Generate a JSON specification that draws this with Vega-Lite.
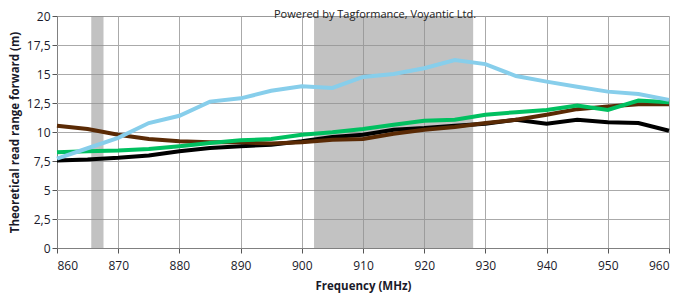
{
  "$schema": "https://vega.github.io/schema/vega-lite/v6.json",
  "width": 612,
  "height": 232,
  "autosize": "none",
  "padding": {"left": 57, "top": 16, "right": 8, "bottom": 52},
  "background": "white",
  "title": {"text": "Powered by Tagformance, Voyantic Ltd.", "anchor": "start", "dx": 265, "dy": 10, "offset": 0, "fontSize": 11, "fontWeight": "normal", "font": "Open Sans", "color": "#222222"},
  "config": {
    "view": {"stroke": "#999999", "strokeWidth": 1},
    "axis": {"labelFont": "Open Sans", "titleFont": "Open Sans", "labelColor": "#1a1a2a", "titleColor": "#1a1a2a", "labelFontSize": 12, "titleFontSize": 11.5, "titleFontWeight": "bold", "gridColor": "#aaaaaa", "gridWidth": 1, "gridOpacity": 1, "domainColor": "#808080", "tickColor": "#555555", "tickSize": 5, "labelOverlap": false}
  },
  "datasets": {
    "grid": [{"g": 2.5}, {"g": 5}, {"g": 7.5}, {"g": 10}, {"g": 12.5}, {"g": 15}, {"g": 17.5}],
    "bands": [
      {"start": 865.6, "end": 867.6, "lo": 0, "hi": 20},
      {"start": 902, "end": 928, "lo": 0, "hi": 20}
    ],
    "curves": [
      {"s": "blue", "f": 860, "r": 7.7}, {"s": "blue", "f": 865, "r": 8.6}, {"s": "blue", "f": 870, "r": 9.5}, {"s": "blue", "f": 875, "r": 10.77}, {"s": "blue", "f": 880, "r": 11.4}, {"s": "blue", "f": 885, "r": 12.62}, {"s": "blue", "f": 890, "r": 12.9}, {"s": "blue", "f": 895, "r": 13.55}, {"s": "blue", "f": 900, "r": 13.95}, {"s": "blue", "f": 905, "r": 13.8}, {"s": "blue", "f": 910, "r": 14.75}, {"s": "blue", "f": 915, "r": 15.0}, {"s": "blue", "f": 920, "r": 15.5}, {"s": "blue", "f": 925, "r": 16.2}, {"s": "blue", "f": 930, "r": 15.85}, {"s": "blue", "f": 935, "r": 14.82}, {"s": "blue", "f": 940, "r": 14.34}, {"s": "blue", "f": 945, "r": 13.9}, {"s": "blue", "f": 950, "r": 13.48}, {"s": "blue", "f": 955, "r": 13.28}, {"s": "blue", "f": 960, "r": 12.77},
      {"s": "green", "f": 860, "r": 8.25}, {"s": "green", "f": 865, "r": 8.34}, {"s": "green", "f": 870, "r": 8.4}, {"s": "green", "f": 875, "r": 8.54}, {"s": "green", "f": 880, "r": 8.77}, {"s": "green", "f": 885, "r": 9.05}, {"s": "green", "f": 890, "r": 9.28}, {"s": "green", "f": 895, "r": 9.4}, {"s": "green", "f": 900, "r": 9.77}, {"s": "green", "f": 905, "r": 9.97}, {"s": "green", "f": 910, "r": 10.26}, {"s": "green", "f": 915, "r": 10.63}, {"s": "green", "f": 920, "r": 10.97}, {"s": "green", "f": 925, "r": 11.05}, {"s": "green", "f": 930, "r": 11.48}, {"s": "green", "f": 935, "r": 11.71}, {"s": "green", "f": 940, "r": 11.9}, {"s": "green", "f": 945, "r": 12.28}, {"s": "green", "f": 950, "r": 11.9}, {"s": "green", "f": 955, "r": 12.71}, {"s": "green", "f": 960, "r": 12.57},
      {"s": "black", "f": 860, "r": 7.55}, {"s": "black", "f": 865, "r": 7.63}, {"s": "black", "f": 870, "r": 7.77}, {"s": "black", "f": 875, "r": 7.97}, {"s": "black", "f": 880, "r": 8.34}, {"s": "black", "f": 885, "r": 8.63}, {"s": "black", "f": 890, "r": 8.77}, {"s": "black", "f": 895, "r": 8.91}, {"s": "black", "f": 900, "r": 9.2}, {"s": "black", "f": 905, "r": 9.57}, {"s": "black", "f": 910, "r": 9.77}, {"s": "black", "f": 915, "r": 10.2}, {"s": "black", "f": 920, "r": 10.34}, {"s": "black", "f": 925, "r": 10.54}, {"s": "black", "f": 930, "r": 10.71}, {"s": "black", "f": 935, "r": 11.05}, {"s": "black", "f": 940, "r": 10.71}, {"s": "black", "f": 945, "r": 11.05}, {"s": "black", "f": 950, "r": 10.85}, {"s": "black", "f": 955, "r": 10.77}, {"s": "black", "f": 960, "r": 10.11},
      {"s": "brown", "f": 860, "r": 10.54}, {"s": "brown", "f": 865, "r": 10.26}, {"s": "brown", "f": 870, "r": 9.77}, {"s": "brown", "f": 875, "r": 9.4}, {"s": "brown", "f": 880, "r": 9.2}, {"s": "brown", "f": 885, "r": 9.11}, {"s": "brown", "f": 890, "r": 9.11}, {"s": "brown", "f": 895, "r": 9.0}, {"s": "brown", "f": 900, "r": 9.11}, {"s": "brown", "f": 905, "r": 9.34}, {"s": "brown", "f": 910, "r": 9.4}, {"s": "brown", "f": 915, "r": 9.85}, {"s": "brown", "f": 920, "r": 10.2}, {"s": "brown", "f": 925, "r": 10.43}, {"s": "brown", "f": 930, "r": 10.77}, {"s": "brown", "f": 935, "r": 11.05}, {"s": "brown", "f": 940, "r": 11.48}, {"s": "brown", "f": 945, "r": 11.97}, {"s": "brown", "f": 950, "r": 12.2}, {"s": "brown", "f": 955, "r": 12.4}, {"s": "brown", "f": 960, "r": 12.4}
    ]
  },
  "encoding": {
    "y": {"type": "quantitative", "scale": {"domain": [0, 20], "nice": false, "zero": true},
      "axis": {"title": "Theoretical read range forward (m)", "grid": false, "values": [0, 2.5, 5, 7.5, 10, 12.5, 15, 17.5, 20], "format": ".1~f", "labelExpr": "replace(datum.label, '.', ',')", "labelPadding": 2, "titleX": -42, "titleY": 116, "titleAlign": "center", "titleBaseline": "middle", "titleAngle": -90, "labelOverlap": false}}
  },
  "layer": [
    {
      "data": {"name": "grid"},
      "mark": {"type": "rule", "color": "#aaaaaa", "strokeWidth": 1, "yOffset": 0.5},
      "encoding": {"y": {"field": "g"}}
    },
    {
      "data": {"name": "bands"},
      "mark": {"type": "rect", "color": "#8f8f8f", "opacity": 0.55},
      "encoding": {
        "x": {"field": "start", "type": "quantitative", "scale": {"domain": [860, 960], "nice": false, "zero": false},
          "axis": {"title": "Frequency (MHz)", "grid": true, "values": [860, 870, 880, 890, 900, 910, 920, 930, 940, 950, 960], "labelPadding": 7, "titlePadding": 9}},
        "x2": {"field": "end"},
        "y": {"field": "lo"},
        "y2": {"field": "hi"}
      }
    },
    {
      "data": {"name": "curves"},
      "transform": [{"filter": "datum.s === 'black'"}],
      "mark": {"type": "line", "color": "#000000", "strokeWidth": 4},
      "encoding": {"x": {"field": "f", "type": "quantitative"}, "y": {"field": "r"}}
    },
    {
      "data": {"name": "curves"},
      "transform": [{"filter": "datum.s === 'brown'"}],
      "mark": {"type": "line", "color": "#5a2a05", "strokeWidth": 4},
      "encoding": {"x": {"field": "f", "type": "quantitative"}, "y": {"field": "r"}}
    },
    {
      "data": {"name": "curves"},
      "transform": [{"filter": "datum.s === 'green'"}],
      "mark": {"type": "line", "color": "#00c060", "strokeWidth": 4},
      "encoding": {"x": {"field": "f", "type": "quantitative"}, "y": {"field": "r"}}
    },
    {
      "data": {"name": "curves"},
      "transform": [{"filter": "datum.s === 'blue'"}],
      "mark": {"type": "line", "color": "#87ceeb", "strokeWidth": 4},
      "encoding": {"x": {"field": "f", "type": "quantitative"}, "y": {"field": "r"}}
    }
  ]
}
